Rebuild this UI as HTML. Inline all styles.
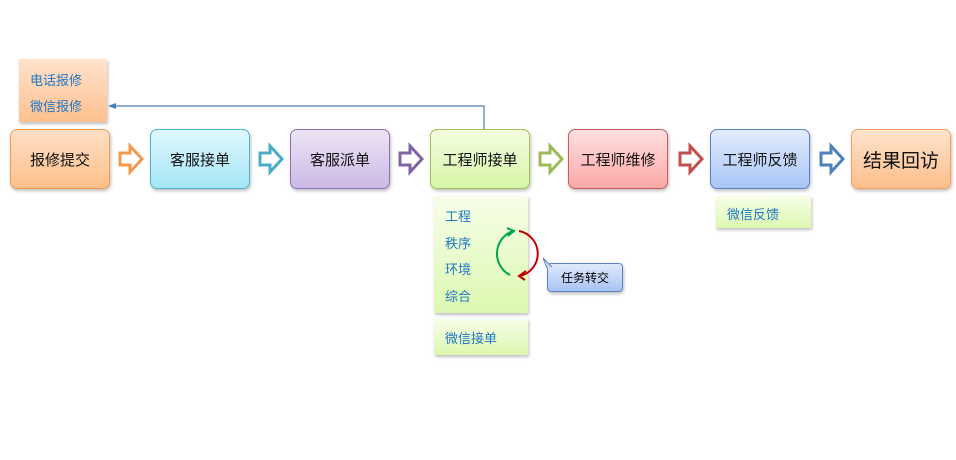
<!DOCTYPE html>
<html><head><meta charset="utf-8"><style>
body{margin:0;width:956px;height:460px;background:#fff;position:relative;overflow:hidden;font-family:"Liberation Sans","Noto Sans CJK SC",sans-serif}
.b{position:absolute;top:129px;width:100px;height:60px;border-radius:7px;box-sizing:border-box;display:flex;align-items:center;justify-content:center;font-size:15px;color:#111;box-shadow:1px 2px 3px rgba(0,0,0,.25)}
.n{position:absolute;box-sizing:border-box;box-shadow:1px 2px 3px rgba(0,0,0,.25);color:#1f78c8;font-size:13px}
</style></head><body>
<div class="n" style="left:19px;top:59px;width:88px;height:63px;background:linear-gradient(#ffe3cc,#fdc08e);padding:9px 0 0 11px;line-height:26px">电话报修<br>微信报修</div>
<div class="b" style="left:10px;background:linear-gradient(#ffe0c6,#fdbf8b);border:1px solid #f49a4f">报修提交</div>
<div class="b" style="left:150px;background:linear-gradient(#e0f7fd,#a5e6f7);border:1px solid #4fb4cc">客服接单</div>
<div class="b" style="left:290px;background:linear-gradient(#ece4f5,#cdb9e6);border:1px solid #8e73b4">客服派单</div>
<div class="b" style="left:430px;background:linear-gradient(#f4fde0,#d6f5a7);border:1px solid #9fc25a">工程师接单</div>
<div class="b" style="left:568px;background:linear-gradient(#ffe0e0,#fda8a8);border:1px solid #cc5a5a">工程师维修</div>
<div class="b" style="left:710px;background:linear-gradient(#e2ecfd,#a9c6f7);border:1px solid #5a82c4">工程师反馈</div>
<div class="b" style="left:851px;background:linear-gradient(#ffe3cc,#fdbf8b);border:1px solid #f4a060;font-size:19px">结果回访</div>
<div class="n" style="left:434px;top:196px;width:94px;height:117px;background:linear-gradient(#f7fee9,#dcf8b0);padding:8px 0 0 11px;line-height:26.5px">工程<br>秩序<br>环境<br>综合</div>
<div class="n" style="left:434px;top:319px;width:94px;height:36px;background:linear-gradient(#f7fee9,#dcf8b0);padding:9px 0 0 11px">微信接单</div>
<div class="n" style="left:716px;top:196px;width:95px;height:32px;background:linear-gradient(#f7fee9,#dcf8b0);padding:8px 0 0 11px">微信反馈</div>
<div style="position:absolute;left:547px;top:263px;width:76px;height:29px;box-sizing:border-box;border:1px solid #5a82c4;border-radius:4px;background:linear-gradient(#dfe9fb,#a8c4f3);font-size:12px;display:flex;align-items:center;justify-content:center;box-shadow:1px 2px 3px rgba(0,0,0,.25)">任务转交</div>
<svg width="956" height="460" style="position:absolute;left:0;top:0">
<path d="M484 129V106H110" fill="none" stroke="#4a7ebb" stroke-width="1.2"/>
<path d="M108 106l8-3v6z" fill="#4a7ebb"/>
<path d="M547 268L543 258L552 267" fill="#c9d9f2" stroke="#5a82c4"/>
<g stroke-width="3" fill="#fff">
<path d="M120 153h10v-7l12 13-12 13v-7h-10z" stroke="#f49a4f"/>
<path d="M260 153h10v-7l12 13-12 13v-7h-10z" stroke="#4bacc6"/>
<path d="M400 153h10v-7l12 13-12 13v-7h-10z" stroke="#8064a2"/>
<path d="M540 153h10v-7l12 13-12 13v-7h-10z" stroke="#9bbb59"/>
<path d="M680 153h10v-7l12 13-12 13v-7h-10z" stroke="#c0504d"/>
<path d="M821 153h10v-7l12 13-12 13v-7h-10z" stroke="#4f81bd"/>
</g>
<path d="M510 275A24 24 0 0 1 513 231" fill="none" stroke="#00a550" stroke-width="2"/>
<path d="M507 228l7 3-6 5" fill="none" stroke="#00a550" stroke-width="2"/>
<path d="M519 231A23 23 0 0 1 520 276" fill="none" stroke="#c00000" stroke-width="2"/>
<path d="M526 271l-7 5 6 4" fill="none" stroke="#c00000" stroke-width="2"/>
</svg>
</body></html>
